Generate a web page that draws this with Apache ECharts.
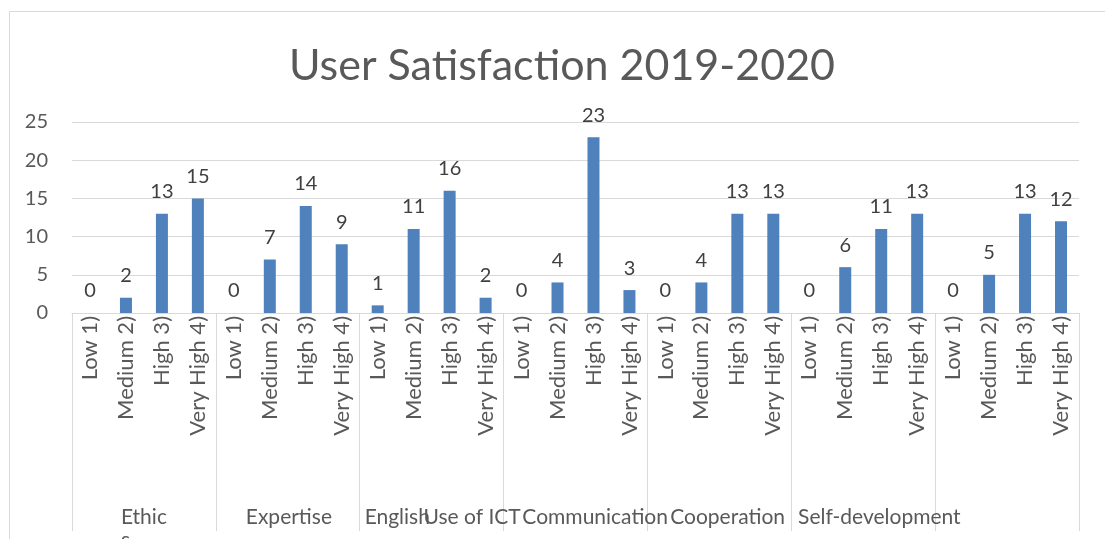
<!DOCTYPE html>
<html>
<head>
<meta charset="utf-8">
<title>User Satisfaction 2019-2020</title>
<script src="https://cdn.jsdelivr.net/npm/echarts@6.0.0/dist/echarts.min.js"></script>
<style>
  html, body { margin: 0; padding: 0; background: #fff; }
  #chart { width: 1105px; height: 539px; }
</style>
</head>
<body>
<div id="chart"></div>
<script>
// categories
const groups = ['Ethics', 'Expertise', 'English', 'Use of ICT', 'Communication', 'Cooperation', 'Self-development'];
const levels = ['Low 1)', 'Medium 2)', 'High 3)', 'Very High 4)'];

// values per group, one per level
const ethics = [0, 2, 13, 15];
const expertise = [0, 7, 14, 9];
const english = [1, 11, 16, 2];
const useOfIct = [0, 4, 23, 3];
const communication = [0, 4, 13, 13];
const cooperation = [0, 6, 11, 13];
const selfDevelopment = [0, 5, 13, 12];

// value axis ticks
const yMin = 0;
const yMax = 25;
const yStep = 5;

// where the group names start, relative to the group middle (px)
const groupLabelShift = [-23, -42, -67, -152, -197, -193, -209];

const FONT = 'Lato';
const TEXT = '#595959';
const LINE = '#d9d9d9';

const groupValues = [ethics, expertise, english, useOfIct, communication, cooperation, selfDevelopment];
const categories = [];
const values = [];
groupValues.forEach((g) => {
  g.forEach((v, i) => {
    categories.push(levels[i]);
    values.push(v);
  });
});

const chart = echarts.init(document.getElementById('chart'));

const option = {
  backgroundColor: '#fff',
  animation: false,
  title: {
    text: 'User Satisfaction 2019-2020',
    left: 557,
    textAlign: 'center',
    top: 40,
    textStyle: { fontFamily: FONT, fontSize: 43, fontWeight: 'normal', color: TEXT },
  },
  graphic: [
    {
      type: 'rect',
      left: 7,
      top: 9,
      shape: { width: 1200, height: 600 },
      style: { fill: 'none', stroke: LINE, lineWidth: 1 },
      silent: true,
    },
  ],
  grid: {
    left: 72,
    right: 26,
    top: 122,
    bottom: 226,
    containLabel: false,
    outerBoundsMode: 'none',
  },
  xAxis: [
    {
      type: 'category',
      position: 'bottom',
      data: categories,
      axisLine: { show: true, lineStyle: { color: LINE, width: 1 } },
      axisTick: { show: false },
      axisLabel: {
        interval: 0,
        rotate: 90,
        margin: 3,
        fontFamily: FONT,
        fontSize: 22,
        color: TEXT,
      },
    },
    {
      type: 'category',
      position: 'bottom',
      offset: 0,
      data: groups.map((g, i) => ({
        value: g,
        textStyle: { align: 'left', padding: [0, 0, 0, groupLabelShift[i]] },
      })),
      axisLine: { show: false },
      axisTick: { show: true, length: 218, lineStyle: { color: LINE, width: 1 } },
      axisLabel: {
        interval: 0,
        margin: 193,
        fontFamily: FONT,
        fontSize: 21,
        lineHeight: 23,
        color: TEXT,
        formatter: (v) => (v === 'Ethics' ? 'Ethic\ns' : v),
      },
    },
  ],
  yAxis: {
    type: 'value',
    min: yMin,
    max: yMax,
    interval: yStep,
    axisLine: { show: false },
    axisTick: { show: false },
    splitLine: { lineStyle: { color: LINE, width: 1 } },
    axisLabel: { margin: 24, fontFamily: FONT, fontSize: 20, color: TEXT },
  },
  series: [
    {
      type: 'bar',
      xAxisIndex: 0,
      data: values,
      barWidth: 12,
      itemStyle: { color: '#4f81bd' },
      label: {
        show: true,
        position: 'top',
        distance: 12,
        fontFamily: FONT,
        fontSize: 20,
        color: '#404040',
      },
    },
  ],
};

chart.setOption(option);
window.addEventListener('resize', () => chart.resize());
</script>
</body>
</html>
